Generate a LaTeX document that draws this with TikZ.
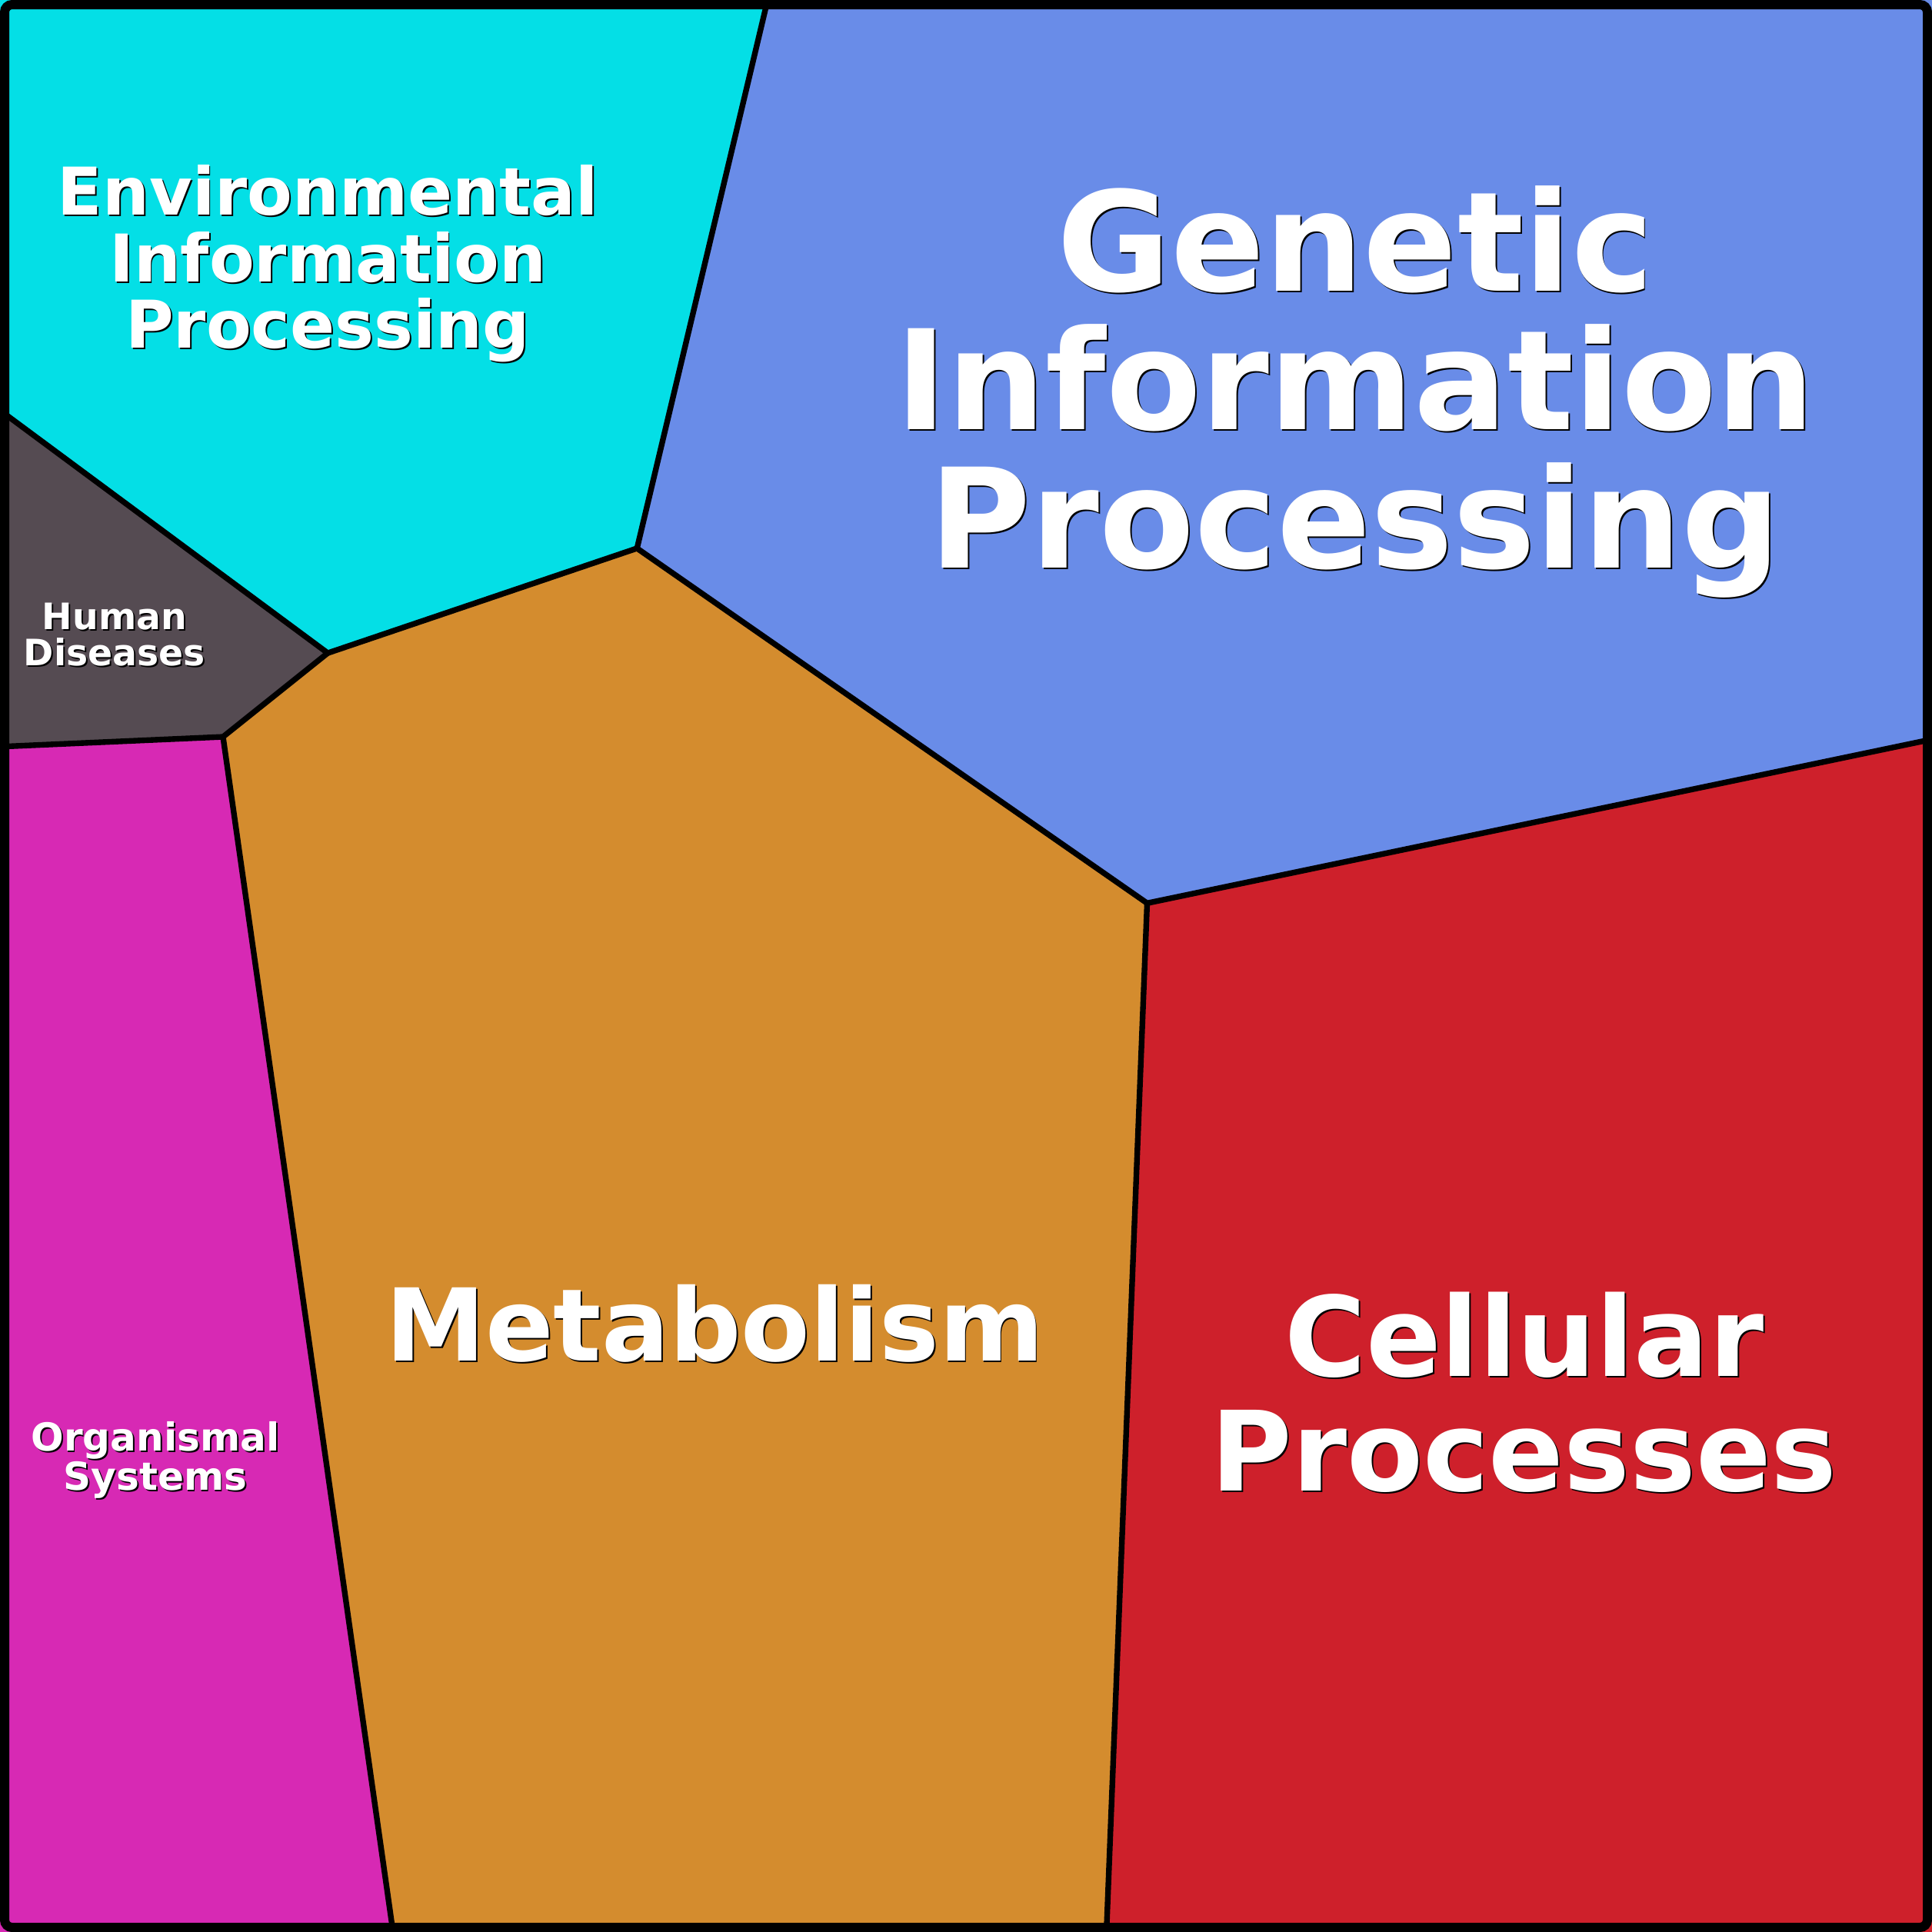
\documentclass[tikz,border=0pt]{standalone}
\usepackage{fontspec}
\setmainfont{DejaVu Sans}
\usetikzlibrary{calc}

\definecolor{envcol}{RGB}{4,223,230}
\definecolor{gencol}{RGB}{105,140,232}
\definecolor{humcol}{RGB}{85,75,82}
\definecolor{orgcol}{RGB}{215,41,180}
\definecolor{metcol}{RGB}{212,140,46}
\definecolor{celcol}{RGB}{206,32,43}

\tikzset{
  cell/.style={draw=black, line width=0.46mm, line join=round},
  lbl/.style={align=center, inner sep=0pt, text=white},
  lblshadow/.style={align=center, inner sep=0pt, text=black}
}

% label with a thin dark shadow: name, position, size, skip, text
\newcommand{\regionlabel}[5]{
  \node[lblshadow, font={\fontsize{#3}{#4}\selectfont\bfseries}] (#1-s) at ($(#2)+(1.2,1.2)$) {#5};
  \node[lbl, font={\fontsize{#3}{#4}\selectfont\bfseries}] (#1) at (#2) {#5};
}

\begin{document}
\begin{tikzpicture}[x=0.1mm,y=-0.1mm]
  \useasboundingbox (0,0) rectangle (1568,1568);

  % region corners
  \coordinate (et) at (623,0);
  \coordinate (el) at (0,333);
  \coordinate (em) at (517,445);
  \coordinate (eh) at (266,530);
  \coordinate (hm) at (181,598);
  \coordinate (hl) at (0,606);
  \coordinate (ob) at (319,1568);
  \coordinate (gm) at (931,733);
  \coordinate (gr) at (1568,600);
  \coordinate (mb) at (898,1568);

  % regions
  \fill[envcol] (0,0) -- (et) -- (em) -- (eh) -- (el) -- cycle;
  \fill[gencol] (et) -- (1568,0) -- (gr) -- (gm) -- (em) -- cycle;
  \fill[humcol] (el) -- (eh) -- (hm) -- (hl) -- cycle;
  \fill[orgcol] (hl) -- (hm) -- (ob) -- (0,1568) -- cycle;
  \fill[metcol] (eh) -- (em) -- (gm) -- (mb) -- (ob) -- (hm) -- cycle;
  \fill[celcol] (gm) -- (gr) -- (1568,1568) -- (mb) -- cycle;

  % borders between regions
  \draw[cell] (et) -- (em) -- (gm) -- (gr);
  \draw[cell] (el) -- (eh) -- (em);
  \draw[cell] (eh) -- (hm) -- (hl);
  \draw[cell] (hm) -- (ob);
  \draw[cell] (gm) -- (mb);
  \draw[line width=0.75mm, rounded corners=0.6mm] (3.75,3.75) rectangle (1564.25,1564.25);

  % labels
  \coordinate (envpos) at (266,214);
  \coordinate (genpos) at (1100,318);
  \coordinate (humpos) at (93,515);
  \coordinate (orgpos) at (126,1185);
  \coordinate (metpos) at (580,1074);
  \coordinate (celpos) at (1237,1130);
  \regionlabel{env}{envpos}{15.2}{15.4}{Environmental\\Information\\Processing}
  \regionlabel{gen}{genpos}{32}{31.9}{Genetic\\Information\\Processing}
  \regionlabel{hum}{humpos}{8.4}{8.25}{Human\\Diseases}
  \regionlabel{org}{orgpos}{8.9}{9.1}{Organismal\\Systems}
  \regionlabel{met}{metpos}{23.2}{24}{Metabolism}
  \regionlabel{cel}{celpos}{25.6}{26.5}{Cellular\\Processes}
\end{tikzpicture}
\end{document}
